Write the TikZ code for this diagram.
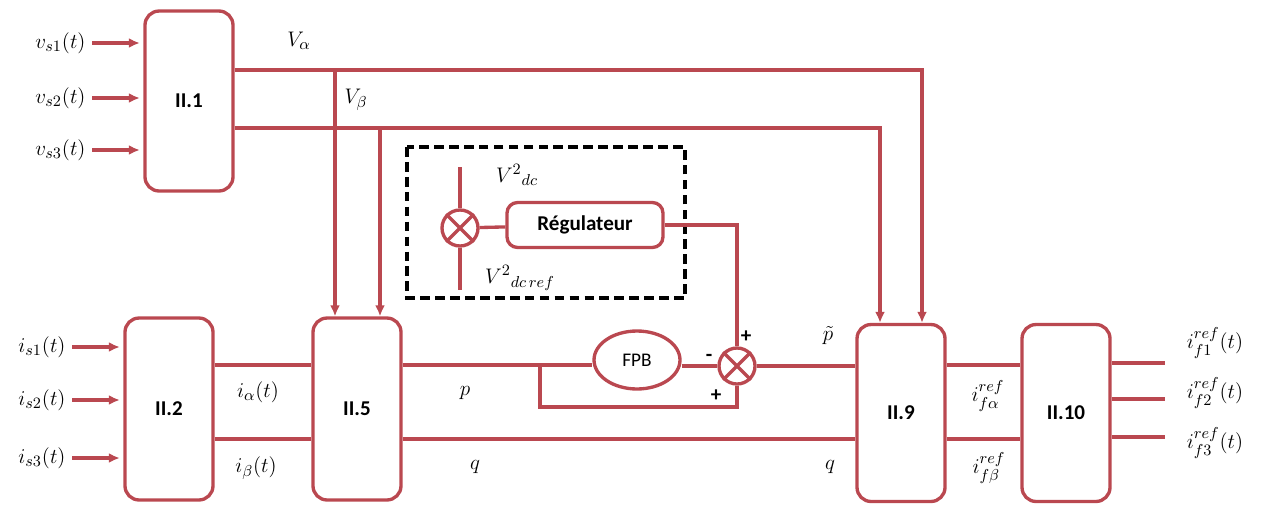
\documentclass[tikz,border=0pt]{standalone}
\usepackage{fontspec}
\setsansfont{Carlito}
\usetikzlibrary{arrows.meta,shapes.geometric}
\definecolor{ln}{RGB}{186,72,80}

\begin{document}
\begin{tikzpicture}[x=0.02cm, y=-0.02cm,
  sig/.style={draw=ln, line width=1.9pt},
  arr/.style={sig, -{Latex[length=2.2mm, width=2mm]}},
  blk/.style={draw=ln, line width=1.9pt, rounded corners=8pt,
    minimum width=1.76cm, inner sep=0,
    font=\sffamily\bfseries\fontsize{12}{14}\selectfont},
  sum/.style={circle, draw=ln, line width=1.9pt, minimum size=0.72cm, inner sep=0},
  lab/.style={font=\fontsize{13}{15}\selectfont, inner sep=3.5pt},
  sgn/.style={font=\sffamily\bfseries\fontsize{12}{14}\selectfont, inner sep=0}]
\useasboundingbox (0,0) rectangle (1266,504);
% blocks
\node[blk, minimum height=3.6cm] (b1) at (189,101) {II.1};
\node[blk, minimum height=3.64cm] (b2) at (169,409) {II.2};
\node[blk, minimum height=3.64cm] (b5) at (357,409) {II.5};
\node[blk, minimum height=3.54cm] (b9) at (901,413) {II.9};
\node[blk, minimum height=3.54cm] (b10) at (1066,413) {II.10};
\node[blk, minimum width=3.12cm, minimum height=0.9cm, rounded corners=6pt]
  (reg) at (585,225) {Régulateur};
\node[ellipse, draw=ln, line width=1.9pt, minimum width=1.72cm,
  minimum height=1.16cm, font=\sffamily\fontsize{11}{13}\selectfont]
  (fpb) at (637,360) {FPB};
\node[sum] (c1) at (460,228) {};
\node[sum] (c2) at (737,366) {};
\foreach \s in {c1,c2}
  \draw[sig] (\s.north west) -- (\s.south east) (\s.north east) -- (\s.south west);
\draw[black, line width=2.2pt, dash pattern=on 5.5pt off 3pt] (407,147) rectangle (685,298);
% inputs
\foreach \i/\y in {1/43, 2/98, 3/150} {
  \node[lab, anchor=east] (vs\i) at (92,\y) {$v_{s\i}(t)$};
  \draw[arr, shorten >=2pt] (vs\i) -- (b1.west |- vs\i);
}
\foreach \i/\y in {1/347, 2/400, 3/458} {
  \node[lab, anchor=east] (is\i) at (72,\y) {$i_{s\i}(t)$};
  \draw[arr, shorten >=2pt] (is\i) -- (b2.west |- is\i);
}
% alpha-beta voltages
\coordinate (va) at (335,70);
\coordinate (vb) at (380,128);
\draw[arr] (b1.east |- va) -| ([xshift=.42cm]b9.north);
\draw[arr] (b1.east |- vb) -| ([xshift=-.42cm]b9.north);
\draw[arr] (va) -- (va |- b5.north);
\draw[arr] (vb) -- (vb |- b5.north);
\node[lab] (lva) at (299,41) {$V_\alpha$};
\node[lab] (lvb) at (356,100) {$V_\beta$};
% dc regulation
\coordinate (vdc) at (460,167);
\coordinate (vref) at (460,290);
\draw[sig] (vdc) -- (c1);
\draw[sig] (c1) -- (vref);
\draw[sig] (c1) -- (reg);
\draw[sig] (reg.east) -| (c2.north);
\node[lab] (lvdc) at (517,175) {${V^2}_{dc}$};
\node[lab] (lvref) at (520,278) {${V^2}_{dc\,ref}$};
% currents and powers
\coordinate (rp) at (0,365);
\coordinate (rq) at (0,439);
\coordinate (tap) at (540,365);
\draw[sig] (b2.east |- rp) -- (b5.west |- rp);
\draw[sig] (b2.east |- rq) -- (b5.west |- rq);
\draw[sig] (b5.east |- rp) -- (fpb.west |- rp);
\draw[sig] (fpb.east |- c2) -- (c2);
\draw[sig] (tap) -- ++(0,42) -| (c2.south);
\draw[sig] (c2) -- (b9.west |- c2);
\draw[sig] (b5.east |- rq) -- (b9.west |- rq);
\draw[sig] (b9.east |- rp) -- (b10.west |- rp);
\draw[sig] (b9.east |- rq) -- (b10.west |- rq);
\node[sgn] (s1) at (746,337) {+};
\node[sgn] (s2) at (709,358) {-};
\node[sgn] (s3) at (716,396) {+};
\node[lab] (lia) at (258,392) {$i_\alpha(t)$};
\node[lab] (lib) at (256,468) {$i_\beta(t)$};
\node[lab] (lp) at (465,393) {$p$};
\node[lab] (lq) at (475,467) {$q$};
\node[lab] (lpt) at (828,336) {$\tilde{p}$};
\node[lab] (lq2) at (830,467) {$q$};
\node[lab] (lifa) at (988,396) {$i_{f\alpha}^{ref}$};
\node[lab] (lifb) at (989,468) {$i_{f\beta}^{ref}$};
% outputs
\foreach \i/\y/\t in {1/363/343, 2/399/393, 3/437/443} {
  \coordinate (o\i) at (1165,\y);
  \draw[sig] (b10.east |- o\i) -- (o\i);
  \node[lab] (lo\i) at (1215,\t) {$i_{f\i}^{ref}(t)$};
}
\end{tikzpicture}
\end{document}
